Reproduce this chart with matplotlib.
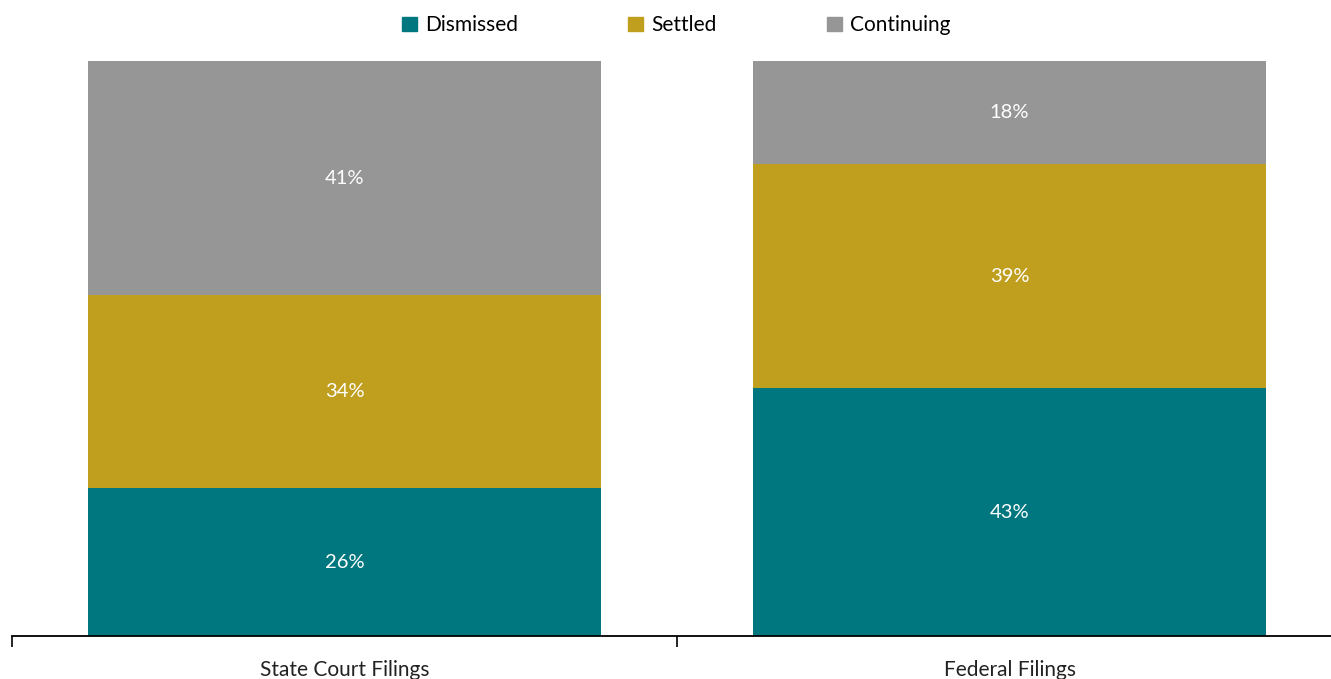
import numpy as np
import matplotlib.pyplot as plt
from matplotlib.patches import Patch

plt.rcParams['font.family'] = ['Lato', 'DejaVu Sans']

categories = ['State Court Filings', 'Federal Filings']
series = ['Dismissed', 'Settled', 'Continuing']
dismissed = [25.7, 43.1]
settled = [33.6, 39.0]
continuing = [40.7, 17.9]
colors = ['#00767E', '#C09F1E', '#969696']

fig = plt.figure(figsize=(13.31, 6.79), dpi=100)
ax = fig.add_axes([12 / 1331, 43 / 679, 1330 / 1331, 575 / 679])

x = np.arange(len(categories))
bottom = np.zeros(len(categories))
for name, vals, col in zip(series, [dismissed, settled, continuing], colors):
    vals = np.array(vals)
    ax.bar(x, vals, bottom=bottom, width=0.77, color=col, label=name)
    for xi, b, v in zip(x, bottom, vals):
        ax.text(xi, b + v / 2, f'{v:.0f}%', ha='center', va='center',
                color='white', fontsize=14.5)
    bottom += vals

ax.set_xlim(-0.5, 1.5)
ax.set_ylim(0, 100)
for s in ['top', 'right', 'left']:
    ax.spines[s].set_visible(False)
ax.spines['bottom'].set_linewidth(1.3)
ax.set_yticks([])
ax.set_xticks(x)
ax.set_xticklabels(categories, fontsize=15, color='#222222')
ax.tick_params(axis='x', which='major', length=0, pad=17)
ax.set_xticks([-0.5, 0.5, 1.5], minor=True)
ax.tick_params(axis='x', which='minor', length=8, width=1.2)

handles = [Patch(color=c, label=n) for n, c in zip(series, colors)]
fig.legend(handles=handles, loc='upper center', bbox_to_anchor=(0.508, 1.005),
           ncol=3, frameon=False, fontsize=15, handlelength=0.7, handleheight=0.7,
           handletextpad=0.4, columnspacing=5.3)

fig.savefig('out.png', dpi=100)
